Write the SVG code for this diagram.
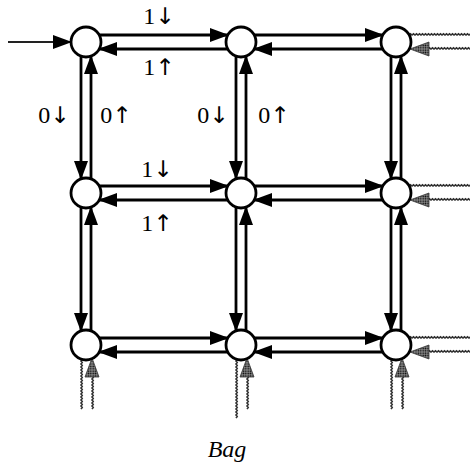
<svg xmlns="http://www.w3.org/2000/svg" xmlns:xlink="http://www.w3.org/1999/xlink" width="470" height="468" viewBox="0 0 470 468">
<style>
.node circle{fill:#fff;stroke:#000;stroke-width:2.8}
.edge{stroke:#000;stroke-width:2.8;fill:none;marker-end:url(#ah)}
.wave{stroke:#333;stroke-width:1.6;fill:none}
.lbl{font-family:"Liberation Serif","DejaVu Serif",serif;font-size:24px;fill:#000;text-anchor:middle}
.ar{font-family:"DejaVu Sans",sans-serif;font-size:23px}
.cap{font-family:"Liberation Serif","DejaVu Serif",serif;font-size:24px;font-style:italic;fill:#000;text-anchor:middle}
</style>
<defs>
<marker id="ah" markerUnits="userSpaceOnUse" markerWidth="19" markerHeight="15" refX="18" refY="7.5" orient="auto">
<path d="M0,0.5 L19,7.5 L0,14.5 z" fill="#000"/>
</marker>
<pattern id="dots" width="2.4" height="2.4" patternUnits="userSpaceOnUse">
<rect width="2.4" height="2.4" fill="#8a8a8a"/>
<circle cx="1.2" cy="1.2" r="0.8" fill="#000"/>
</pattern>
<path id="garrow" d="M0,0 L-19,-7 L-19,7 z" fill="url(#dots)" stroke="#333" stroke-width="0.8"/>
<path id="hw" d="M0,0 l1.5,-1.2 1.5,1.2 1.5,-1.2 1.5,1.2 1.5,-1.2 1.5,1.2 1.5,-1.2 1.5,1.2 1.5,-1.2 1.5,1.2 1.5,-1.2 1.5,1.2 1.5,-1.2 1.5,1.2 1.5,-1.2 1.5,1.2 1.5,-1.2 1.5,1.2 1.5,-1.2 1.5,1.2 1.5,-1.2 1.5,1.2 1.5,-1.2 1.5,1.2 1.5,-1.2 1.5,1.2 1.5,-1.2 1.5,1.2 1.5,-1.2 1.5,1.2 1.5,-1.2 1.5,1.2 1.5,-1.2 1.5,1.2 1.5,-1.2 1.5,1.2 1.5,-1.2 1.5,1.2 1.5,-1.2 1.5,1.2 1.5,-1.2 1.5,1.2" class="wave"/>
<path id="vw17" d="M0,0 l1.2,1.5 -1.2,1.5 1.2,1.5 -1.2,1.5 1.2,1.5 -1.2,1.5 1.2,1.5 -1.2,1.5 1.2,1.5 -1.2,1.5 1.2,1.5 -1.2,1.5 1.2,1.5 -1.2,1.5 1.2,1.5 -1.2,1.5 1.2,1.5 -1.2,1.5 1.2,1.5 -1.2,1.5 1.2,1.5 -1.2,1.5 1.2,1.5 -1.2,1.5 1.2,1.5 -1.2,1.5 1.2,1.5 -1.2,1.5 1.2,1.5 -1.2,1.5 1.2,1.5 -1.2,1.5 1.2,1.5 -1.2,1.5" class="wave"/>
<path id="vw20" d="M0,0 l1.2,1.5 -1.2,1.5 1.2,1.5 -1.2,1.5 1.2,1.5 -1.2,1.5 1.2,1.5 -1.2,1.5 1.2,1.5 -1.2,1.5 1.2,1.5 -1.2,1.5 1.2,1.5 -1.2,1.5 1.2,1.5 -1.2,1.5 1.2,1.5 -1.2,1.5 1.2,1.5 -1.2,1.5 1.2,1.5 -1.2,1.5 1.2,1.5 -1.2,1.5 1.2,1.5 -1.2,1.5 1.2,1.5 -1.2,1.5 1.2,1.5 -1.2,1.5 1.2,1.5 -1.2,1.5 1.2,1.5 -1.2,1.5 1.2,1.5 -1.2,1.5 1.2,1.5 -1.2,1.5 1.2,1.5 -1.2,1.5" class="wave"/>
<path id="vw11" d="M0,0 l1.2,1.5 -1.2,1.5 1.2,1.5 -1.2,1.5 1.2,1.5 -1.2,1.5 1.2,1.5 -1.2,1.5 1.2,1.5 -1.2,1.5 1.2,1.5 -1.2,1.5 1.2,1.5 -1.2,1.5 1.2,1.5 -1.2,1.5 1.2,1.5 -1.2,1.5 1.2,1.5 -1.2,1.5 1.2,1.5 -1.2,1.5" class="wave"/>
</defs>
<rect width="470" height="468" fill="#fff"/>
<g id="connectors">
<line x1="8" y1="42" x2="71" y2="42" stroke="#222" stroke-width="1.8" marker-end="url(#ah)"/>
<line class="edge" x1="99" y1="35" x2="228" y2="35"/>
<line class="edge" x1="228" y1="49" x2="99" y2="49"/>
<line class="edge" x1="254" y1="35" x2="383" y2="35"/>
<line class="edge" x1="383" y1="49" x2="254" y2="49"/>
<line class="edge" x1="99" y1="186" x2="228" y2="186"/>
<line class="edge" x1="228" y1="200" x2="99" y2="200"/>
<line class="edge" x1="254" y1="186" x2="383" y2="186"/>
<line class="edge" x1="383" y1="200" x2="254" y2="200"/>
<line class="edge" x1="99" y1="338" x2="228" y2="338"/>
<line class="edge" x1="228" y1="352" x2="99" y2="352"/>
<line class="edge" x1="254" y1="338" x2="383" y2="338"/>
<line class="edge" x1="383" y1="352" x2="254" y2="352"/>
<line class="edge" x1="81" y1="56" x2="81" y2="179"/>
<line class="edge" x1="91" y1="179" x2="91" y2="56"/>
<line class="edge" x1="236" y1="56" x2="236" y2="179"/>
<line class="edge" x1="246" y1="179" x2="246" y2="56"/>
<line class="edge" x1="391" y1="56" x2="391" y2="179"/>
<line class="edge" x1="401" y1="179" x2="401" y2="56"/>
<line class="edge" x1="81" y1="207" x2="81" y2="331"/>
<line class="edge" x1="91" y1="331" x2="91" y2="207"/>
<line class="edge" x1="236" y1="207" x2="236" y2="331"/>
<line class="edge" x1="246" y1="331" x2="246" y2="207"/>
<line class="edge" x1="391" y1="207" x2="391" y2="331"/>
<line class="edge" x1="401" y1="331" x2="401" y2="207"/>
<use href="#hw" x="409" y="35"/>
<use href="#hw" x="428" y="49"/>
<use href="#garrow" transform="translate(410,49) rotate(180)"/>
<use href="#hw" x="409" y="186"/>
<use href="#hw" x="428" y="200"/>
<use href="#garrow" transform="translate(410,200) rotate(180)"/>
<use href="#hw" x="409" y="338"/>
<use href="#hw" x="428" y="352"/>
<use href="#garrow" transform="translate(410,352) rotate(180)"/>
<use href="#vw17" x="81" y="358"/>
<use href="#vw11" x="92" y="376"/>
<use href="#garrow" transform="translate(92,358) rotate(-90)"/>
<use href="#vw20" x="236" y="358"/>
<use href="#vw11" x="247" y="376"/>
<use href="#garrow" transform="translate(247,358) rotate(-90)"/>
<use href="#vw17" x="391" y="358"/>
<use href="#vw11" x="402" y="376"/>
<use href="#garrow" transform="translate(402,358) rotate(-90)"/>
</g>
<g id="n11" class="node"><circle cx="86" cy="42" r="15"/></g>
<g id="n12" class="node"><circle cx="241" cy="42" r="15"/></g>
<g id="n13" class="node"><circle cx="396" cy="42" r="15"/></g>
<g id="n21" class="node"><circle cx="86" cy="193" r="15"/></g>
<g id="n22" class="node"><circle cx="241" cy="193" r="15"/></g>
<g id="n23" class="node"><circle cx="396" cy="193" r="15"/></g>
<g id="n31" class="node"><circle cx="86" cy="345" r="15"/></g>
<g id="n32" class="node"><circle cx="241" cy="345" r="15"/></g>
<g id="n33" class="node"><circle cx="396" cy="345" r="15"/></g>
<g id="labels">
<text class="lbl" x="159" y="24">1<tspan class="ar">↓</tspan></text>
<text class="lbl" x="159" y="75">1<tspan class="ar">↑</tspan></text>
<text class="lbl" x="157" y="177">1<tspan class="ar">↓</tspan></text>
<text class="lbl" x="157" y="231">1<tspan class="ar">↑</tspan></text>
<text class="lbl" x="54" y="123">0<tspan class="ar">↓</tspan></text>
<text class="lbl" x="116" y="123">0<tspan class="ar">↑</tspan></text>
<text class="lbl" x="213" y="123">0<tspan class="ar">↓</tspan></text>
<text class="lbl" x="274" y="123">0<tspan class="ar">↑</tspan></text>
<text class="cap" x="227" y="457">Bag</text>
</g>
</svg>
